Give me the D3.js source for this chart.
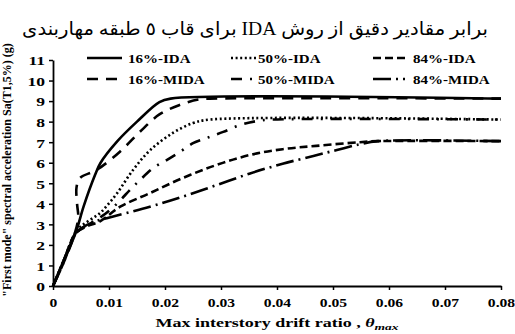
<!DOCTYPE html>
<html>
<head>
<meta charset="utf-8">
<script src="https://cdn.jsdelivr.net/npm/d3@7"></script>
<style>
  body { margin: 0; background: #fff; }
  svg { display: block; }
  text { font-family: "Liberation Serif", "DejaVu Serif", serif; fill: #000; }
</style>
</head>
<body>
<div id="chart"></div>
<script>
const width = 515, height = 334;

// tick labels
const xTicks = [0, 0.01, 0.02, 0.03, 0.04, 0.05, 0.06, 0.07, 0.08];
const yTicks = [0, 1, 2, 3, 4, 5, 6, 7, 8, 9, 10, 11];

// series (drift ratio, Sa in g)
const drift16IDA = [0, 0.002, 0.004, 0.0055, 0.0075, 0.0085, 0.0115, 0.015, 0.019, 0.021, 0.08];
const sa16IDA    = [0, 1.3, 2.55, 3.9, 5.4, 6.0, 7.05, 8.0, 8.95, 9.12, 9.12];

const drift50IDA = [0, 0.002, 0.004, 0.0052, 0.0068, 0.0084, 0.0096, 0.0114, 0.0143, 0.0173, 0.0214, 0.025, 0.028, 0.08];
const sa50IDA    = [0, 1.3, 2.6, 2.95, 3.25, 3.55, 3.9, 4.5, 5.65, 6.6, 7.45, 7.93, 8.1, 8.1];

const drift84IDA = [0, 0.002, 0.004, 0.006, 0.0084, 0.012, 0.0173, 0.0232, 0.0292, 0.0352, 0.041, 0.047, 0.0548, 0.058, 0.08];
const sa84IDA    = [0, 1.3, 2.55, 2.9, 3.15, 3.86, 4.52, 5.26, 5.89, 6.38, 6.66, 6.82, 7.0, 7.05, 7.05];

const drift16MIDA = [0, 0.002, 0.0037, 0.0045, 0.0043, 0.0042, 0.0048, 0.0078, 0.012, 0.0155, 0.019, 0.0225, 0.026, 0.028, 0.08];
const sa16MIDA    = [0, 1.2, 2.4, 3.3, 4.0, 4.8, 5.25, 5.65, 6.55, 7.5, 8.35, 8.8, 9.08, 9.12, 9.12];

const drift50MIDA = [0, 0.002, 0.004, 0.006, 0.0085, 0.011, 0.014, 0.0155, 0.0179, 0.0203, 0.0227, 0.025, 0.0274, 0.0304, 0.0334, 0.0364, 0.039, 0.08];
const sa50MIDA    = [0, 1.3, 2.55, 2.95, 3.35, 3.9, 4.75, 5.15, 5.74, 6.13, 6.53, 6.95, 7.2, 7.5, 7.83, 8.03, 8.1, 8.1];

const drift84MIDA = [0, 0.002, 0.0038, 0.005, 0.0075, 0.0096, 0.0173, 0.0232, 0.0292, 0.0352, 0.041, 0.0465, 0.0507, 0.0548, 0.058, 0.08];
const sa84MIDA    = [0, 1.2, 2.45, 2.8, 3.15, 3.3, 3.86, 4.35, 4.91, 5.48, 5.95, 6.33, 6.62, 6.9, 7.05, 7.05];

const seriesNames = ["16%-IDA", "50%-IDA", "84%-IDA", "16%-MIDA", "50%-MIDA", "84%-MIDA"];
const seriesX = [drift16IDA, drift50IDA, drift84IDA, drift16MIDA, drift50MIDA, drift84MIDA];
const seriesY = [sa16IDA, sa50IDA, sa84IDA, sa16MIDA, sa50MIDA, sa84MIDA];
const dashes = ["none", "2,2.6", "8,4", "11,8", "11,8,2,8", "18,5,2,5"];

const margin = {top: 60, right: 14, bottom: 48, left: 53};

const x = d3.scaleLinear().domain([0, 0.08]).range([margin.left, width - margin.right]);
const y = d3.scaleLinear().domain([0, 11]).range([height - margin.bottom, margin.top]);

const svg = d3.select("#chart")
  .append("svg")
    .attr("width", width)
    .attr("height", height);

// title, fitted to the width it has in the picture
const title = svg.append("text")
    .attr("x", 0)
    .attr("y", 0)
    .attr("text-anchor", "middle")
    .attr("direction", "rtl")
    .style("font-family", "'Liberation Serif', 'DejaVu Sans', serif")
    .style("font-size", "18px")
    .text("برابر مقادیر دقیق از روش IDA برای قاب ٥ طبقه مهاربندی");
const tb = title.node().getBBox();
const ts = 466 / tb.width;
title.attr("transform", `translate(${255 - (tb.x + tb.width / 2) * ts},35) scale(${ts},1)`);

// curves
const line = d3.line()
  .x(d => x(d[0]))
  .y(d => y(d[1]))
  .curve(d3.curveCatmullRom.alpha(0.5));

seriesNames.forEach((name, i) => {
  const pts = seriesX[i].map((v, j) => [v, seriesY[i][j]]);
  svg.append("path")
      .datum(pts)
      .attr("fill", "none")
      .attr("stroke", "#000")
      .attr("stroke-width", 2.6)
      .attr("stroke-dasharray", dashes[i])
      .attr("d", line);
});

// axes
const sx = 1.3;
const xAxis = svg.append("g")
    .attr("transform", `translate(0,${y(0)})`)
    .call(d3.axisBottom(x).tickValues(xTicks).tickSize(4).tickSizeOuter(0)
      .tickFormat(d => d === 0 ? "0" : d3.format(".2f")(d)));
xAxis.select(".domain").attr("stroke-width", 1.8);
xAxis.selectAll(".tick line").attr("stroke-width", 1.5);
xAxis.selectAll("text")
    .attr("y", 0).attr("dy", 0)
    .attr("transform", `translate(0,21) scale(${sx},1)`)
    .style("font-size", "12px").style("font-weight", "bold")
    .style("font-family", "'Liberation Serif', serif");

const yAxis = svg.append("g")
    .attr("transform", `translate(${x(0)},0)`)
    .call(d3.axisLeft(y).tickValues(yTicks).tickSize(4).tickSizeOuter(0).tickFormat(d3.format("d")));
yAxis.select(".domain").attr("stroke-width", 1.8);
yAxis.selectAll(".tick line").attr("stroke-width", 1.5);
yAxis.selectAll("text")
    .attr("x", 0).attr("dy", "0.36em")
    .attr("transform", `translate(-8,0) scale(${sx},1)`)
    .style("font-size", "13.5px").style("font-weight", "bold")
    .style("font-family", "'Liberation Serif', serif");

// axis titles
svg.append("text")
    .attr("transform", `translate(${(x(0) + x(0.08)) / 2},327) scale(1.5,1)`)
    .attr("text-anchor", "middle")
    .style("font-size", "12px").style("font-weight", "bold")
    .call(t => {
      t.append("tspan").text("Max interstory drift ratio , ");
      t.append("tspan").text("θ").style("font-style", "italic");
      t.append("tspan").text("max").style("font-style", "italic")
        .style("font-size", "9px").attr("dy", 3);
    });

svg.append("text")
    .attr("transform", `translate(11,170) rotate(-90)`)
    .attr("text-anchor", "middle")
    .style("font-size", "12px").style("font-weight", "bold")
    .text('"First mode" spectral acceleration Sa(T1,5%) (g)');

// legend
const legendCols = [87, 231, 373];
const legendRows = [58, 79];
const legendLen = [35, 26, 32];
const legend = svg.append("g");
seriesNames.forEach((name, i) => {
  const col = i % 3, row = Math.floor(i / 3);
  const lx = legendCols[col], ly = legendRows[row];
  legend.append("line")
      .attr("x1", lx).attr("x2", lx + legendLen[col])
      .attr("y1", ly).attr("y2", ly)
      .attr("stroke", "#000")
      .attr("stroke-width", 2.6)
      .attr("stroke-dasharray", dashes[i]);
  legend.append("text")
      .attr("transform", `translate(${[128, 258, 413][col]},${ly + 4.5}) scale(1.25,1)`)
      .style("font-size", "12px").style("font-weight", "bold")
      .text(name);
});
</script>
</body>
</html>
